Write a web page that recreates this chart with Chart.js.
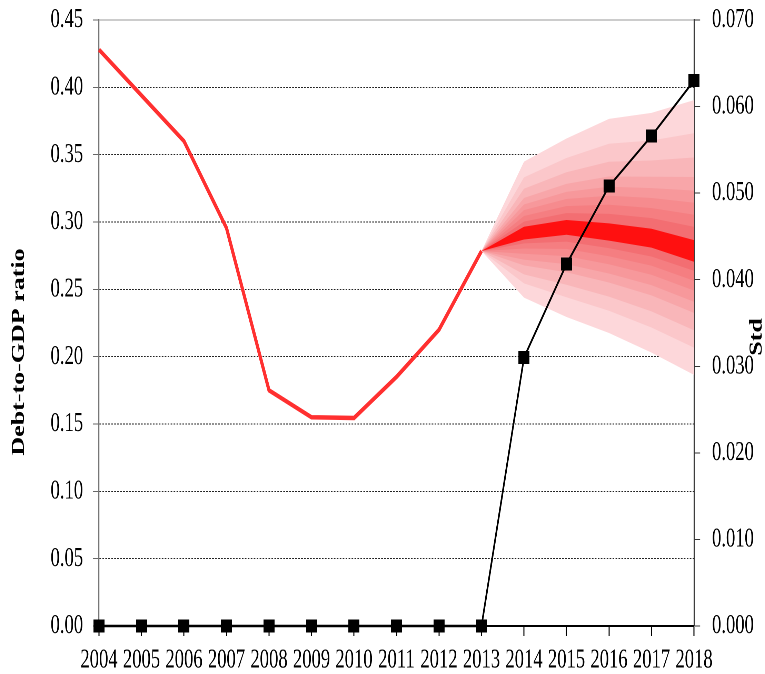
<!DOCTYPE html>
<html><head><meta charset="utf-8">
<script src="https://cdn.jsdelivr.net/npm/chart.js@4/dist/chart.umd.min.js"></script>
<style>
html,body{margin:0;padding:0;overflow:hidden;background:#fff;width:765px;height:674px;}
#wrap{position:absolute;left:0;top:0;width:1109px;height:674px;transform:scaleX(0.689811);transform-origin:0 0;}
</style></head><body><div id="wrap"><canvas id="c"></canvas></div>
<script>
// ---- data ----
const years = ['2004','2005','2006','2007','2008','2009','2010','2011','2012','2013','2014','2015','2016','2017','2018'];
const debtRatio = [0.428, 0.394, 0.360, 0.2955, 0.175, 0.155, 0.1545, 0.185, 0.220, 0.2785, null, null, null, null, null];
const stdDev = [0, 0, 0, 0, 0, 0, 0, 0, 0, 0, 0.031, 0.0418, 0.0508, 0.0566, 0.063];
const leftTicks = [0, 0.05, 0.10, 0.15, 0.20, 0.25, 0.30, 0.35, 0.40, 0.45];
const rightTicks = [0, 0.01, 0.02, 0.03, 0.04, 0.05, 0.06, 0.07];
// fan chart bounds, 2013..2018 (outer = 1, inner = 8, C = central band)
const fanYears = ['2013','2014','2015','2016','2017','2018'];
const up1 = [0.2785, 0.3448, 0.3620, 0.3766, 0.3810, 0.3905];
const up2 = [0.2785, 0.3331, 0.3475, 0.3581, 0.3605, 0.3659];
const up3 = [0.2785, 0.3247, 0.3369, 0.3447, 0.3457, 0.3479];
const up4 = [0.2785, 0.3178, 0.3283, 0.3338, 0.3336, 0.3334];
const up5 = [0.2785, 0.3130, 0.3224, 0.3262, 0.3252, 0.3233];
const up6 = [0.2785, 0.3088, 0.3171, 0.3195, 0.3178, 0.3143];
const up7 = [0.2785, 0.3045, 0.3118, 0.3128, 0.3103, 0.3054];
const up8 = [0.2785, 0.3003, 0.3066, 0.3060, 0.3029, 0.2964];
const upC = [0.2785, 0.2965, 0.3015, 0.2990, 0.2950, 0.2865];
const loC = [0.2785, 0.2870, 0.2905, 0.2862, 0.2810, 0.2705];
const lo8 = [0.2785, 0.2841, 0.2854, 0.2806, 0.2744, 0.2638];
const lo7 = [0.2785, 0.2803, 0.2800, 0.2746, 0.2676, 0.2564];
const lo6 = [0.2785, 0.2764, 0.2747, 0.2686, 0.2608, 0.2491];
const lo5 = [0.2785, 0.2721, 0.2687, 0.2618, 0.2531, 0.2408];
const lo4 = [0.2785, 0.2678, 0.2627, 0.2551, 0.2455, 0.2325];
const lo3 = [0.2785, 0.2611, 0.2534, 0.2446, 0.2336, 0.2196];
const lo2 = [0.2785, 0.2544, 0.2441, 0.2341, 0.2217, 0.2067];
const lo1 = [0.2785, 0.2438, 0.2295, 0.2176, 0.2030, 0.1865];
const bandColors = ['#fdd7da','#fbc7ca','#f9b6b9','#f8a6a9','#f7989b','#f68b8e','#f57e81','#f36e72'];
const centerColor = '#ff1010';

// ---- build ----
const fanStart = years.indexOf(fanYears[0]);
const pad = a => Array(fanStart).fill(null).concat(a);
const uppers = [up1, up2, up3, up4, up5, up6, up7, up8];
const lowers = [lo1, lo2, lo3, lo4, lo5, lo6, lo7, lo8];

const marker = document.createElement('canvas');
marker.width = 16; marker.height = 13;
const mctx = marker.getContext('2d');
mctx.fillStyle = '#000'; mctx.fillRect(0, 0, 16, 13);

const hidden = {borderWidth: 0, pointRadius: 0, yAxisID: 'y'};
const datasets = [
  {label: 'Std', data: stdDev, yAxisID: 'y1', borderColor: '#000', borderWidth: 2.4,
   pointStyle: marker, pointRadius: 8, fill: false, clip: false},
  {label: 'Debt-to-GDP ratio', data: debtRatio, yAxisID: 'y', borderColor: '#ff3030', borderWidth: 4.5,
   pointRadius: 0, fill: false},
  Object.assign({data: pad(upC), fill: '+1', backgroundColor: centerColor}, hidden),
  Object.assign({data: pad(loC), fill: false}, hidden)
];
for (let k = 7; k >= 0; k--) {
  datasets.push(Object.assign({data: pad(uppers[k]), fill: '+1', backgroundColor: bandColors[k]}, hidden));
  datasets.push(Object.assign({data: pad(lowers[k]), fill: false}, hidden));
}

const S = 0.689811;
const FONT = 'Liberation Serif';
const titles = {
  id: 'axisTitles',
  afterDraw(chart) {
    const c = chart.ctx;
    c.save();
    c.fillStyle = '#000';
    c.font = 'bold 26px "' + FONT + '"';
    c.textAlign = 'center';
    c.textBaseline = 'middle';
    c.translate(19 / S, 352); c.rotate(-Math.PI / 2); c.fillText('Debt-to-GDP ratio', 0, 0);
    c.restore();
    c.save();
    c.fillStyle = '#000';
    c.font = 'bold 26px "' + FONT + '"';
    c.textAlign = 'center';
    c.textBaseline = 'middle';
    c.translate(757 / S, 337); c.rotate(-Math.PI / 2); c.fillText('Std', 0, 0);
    c.restore();
  }
};

new Chart(document.getElementById('c'), {
  type: 'line',
  data: {labels: years, datasets},
  plugins: [titles],
  options: {
    responsive: true, maintainAspectRatio: false, animation: false, devicePixelRatio: 2,
    layout: {padding: {top: 20, bottom: 0, left: 0, right: 0}},
    elements: {line: {tension: 0}},
    plugins: {legend: {display: false}, tooltip: {enabled: false}},
    scales: {
      x: {
        offset: false,
        grid: {drawOnChartArea: false, tickLength: 10, color: '#000', tickWidth: 1.5},
        border: {color: '#000', width: 2},
        ticks: {autoSkip: false, maxRotation: 0, padding: 8, color: '#000', font: {family: FONT, size: 27}},
        afterFit(s) { s.height = 48; s.paddingLeft = 0; s.paddingRight = 0; }
      },
      y: {
        position: 'left', min: 0, max: 0.45,
        afterBuildTicks(s) { s.ticks = leftTicks.map(v => ({value: v})); },
        grid: {
          color: ctx => (ctx.tick && Math.abs(ctx.tick.value - 0.45) < 1e-9) ? '#999' : '#222',
          lineWidth: 1, tickLength: 9, tickColor: '#666', tickWidth: 1, tickBorderDash: []
        },
        border: {color: '#777', width: 1.6,
          dash: ctx => (ctx.tick && Math.abs(ctx.tick.value - 0.45) < 1e-9) ? [] : [2.5, 1.8]},
        ticks: {padding: 14, color: '#000', font: {family: FONT, size: 27}, callback: v => Number(v).toFixed(2)},
        afterFit(s) { s.width = 99 / S; s.paddingTop = 0; s.paddingBottom = 0; }
      },
      y1: {
        position: 'right', min: 0, max: 0.07,
        afterBuildTicks(s) { s.ticks = rightTicks.map(v => ({value: v})); },
        grid: {drawOnChartArea: false, tickLength: 9, color: '#333', tickWidth: 1},
        border: {color: '#333', width: 1.6},
        ticks: {padding: 17, color: '#000', font: {family: FONT, size: 27}, callback: v => Number(v).toFixed(3)},
        afterFit(s) { s.width = 1109 - 694 / S; s.paddingTop = 0; s.paddingBottom = 0; }
      }
    }
  }
});
</script></body></html>
